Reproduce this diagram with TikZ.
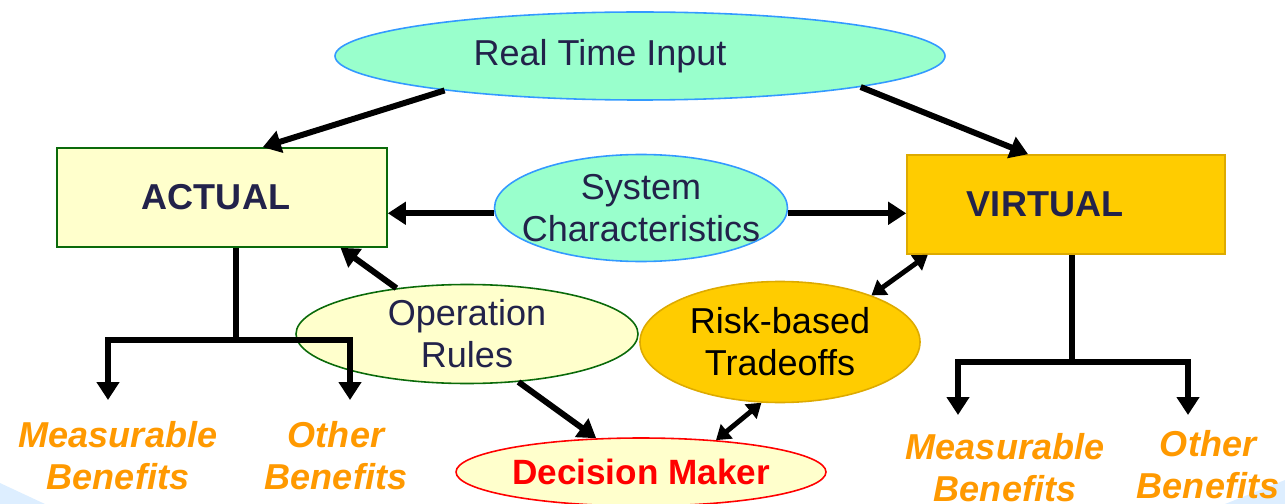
\documentclass[tikz,border=0pt]{standalone}
\usepackage{fontspec}
\setmainfont{Liberation Sans}
\usetikzlibrary{arrows.meta,positioning,shapes.geometric}
\definecolor{navy}{HTML}{22224A}
\definecolor{mint}{HTML}{99FFCC}
\definecolor{sky}{HTML}{3399FF}
\definecolor{cream}{HTML}{FFFFCC}
\definecolor{leaf}{HTML}{0A6A0A}
\definecolor{gold}{HTML}{FFCC00}
\definecolor{goldline}{HTML}{DDAA00}
\definecolor{gainorange}{HTML}{FF9900}
\definecolor{paleblue}{HTML}{DDEEFF}

\begin{document}
\begin{tikzpicture}[>={Triangle[length=3.6mm,width=4.4mm]},
  font=\fontsize{20.5}{24}\selectfont,text=navy,
  oval/.style={ellipse,inner sep=0pt,align=center,line width=0.9pt},
  box/.style={rectangle,inner sep=0pt,line width=0.9pt,font=\fontsize{20.5}{24}\selectfont\bfseries},
  bigarrow/.style={->,line width=3.4pt},
  twin/.style={{Triangle[length=2.8mm,width=3.6mm]}-{Triangle[length=2.8mm,width=3.6mm]},line width=2.8pt},
  gain/.style={text=gainorange,align=center,font=\fontsize{20.5}{24}\selectfont\bfseries\itshape}]
\useasboundingbox (0,0) rectangle (25.7,-10.08);
% slide corners
\fill[paleblue] (0,-9.66) -- (0.9,-10.08) -- (0,-10.08) -- cycle;
\fill[paleblue] (24.5,-10.08) -- (25.7,-9.6) -- (25.7,-10.08) -- cycle;
% nodes
\node[oval,draw=sky,fill=mint,minimum width=12.2cm,minimum height=1.76cm] (rti) at (12.8,-1.12) {\hspace*{-1.6cm}Real Time Input};
\node[box,draw=leaf,fill=cream,minimum width=6.6cm,minimum height=1.98cm] (actual) at (4.44,-3.95) {\hspace*{-0.24cm}ACTUAL};
\node[box,draw=goldline,fill=gold,minimum width=6.36cm,minimum height=1.98cm] (virtual) at (21.32,-4.09) {\hspace*{-0.84cm}\raisebox{-0.25cm}{VIRTUAL}};
\node[oval,draw=sky,fill=mint,inner xsep=-10pt,inner ysep=-3pt,minimum width=5.86cm,minimum height=2.14cm] (sys) at (12.82,-4.16) {System\\Characteristics};
\node[oval,draw=leaf,fill=cream,minimum width=6.84cm,minimum height=1.98cm] (ops) at (9.34,-6.68) {Operation\\Rules};
\node[oval,draw=goldline,fill=gold,minimum width=5.6cm,minimum height=2.42cm,text=black] (risk) at (15.6,-6.84) {Risk-based\\Tradeoffs};
\node[oval,draw=red,fill=cream,minimum width=7.4cm,minimum height=1.36cm,text=red,font=\fontsize{20}{24}\selectfont\bfseries] (dm) at (12.82,-9.44) {Decision Maker};
\node[gain] (ameas) at (2.36,-9.12) {Measurable\\Benefits};
\node[gain] (aother) at (6.72,-9.12) {Other\\Benefits};
\node[gain] (vmeas) at (20.1,-9.36) {Measurable\\Benefits};
\node[gain] (vother) at (24.16,-9.3) {Other\\Benefits};
\coordinate (ajoint) at (4.72,-6.8);
\coordinate (aleft) at (2.16,-8.0);
\coordinate (aright) at (7.0,-8.0);
\coordinate (vjoint) at (21.44,-7.24);
\coordinate (vleft) at (19.16,-8.3);
\coordinate (vright) at (23.76,-8.3);
% connectors
\draw[bigarrow] (rti.190) -- (actual.51);
\draw[bigarrow] (rti.352) -- (virtual.127);
\draw[bigarrow] ([yshift=-3pt]sys.west) -- ([yshift=-3pt]sys.west -| actual.east);
\draw[bigarrow] ([yshift=-3pt]sys.east) -- ([yshift=-3pt]sys.east -| virtual.west);
\draw[bigarrow] (ops.147) -- (actual.-23);
\draw[bigarrow] (ops.-43) -- (dm.143);
\draw[twin] (risk.27) -- (virtual.200);
\draw[twin] (risk.253) -- (dm.23);
% benefit trees
\draw[line width=3.4pt] (actual.south -| ajoint) -- (ajoint);
\draw[bigarrow,line cap=rect] (ajoint) -| (aleft);
\draw[bigarrow,line cap=rect] (ajoint) -| (aright);
\draw[line width=3.4pt] (virtual.south -| vjoint) -- (vjoint);
\draw[bigarrow,line cap=rect] (vjoint) -| (vleft);
\draw[bigarrow,line cap=rect] (vjoint) -| (vright);
\end{tikzpicture}
\end{document}
